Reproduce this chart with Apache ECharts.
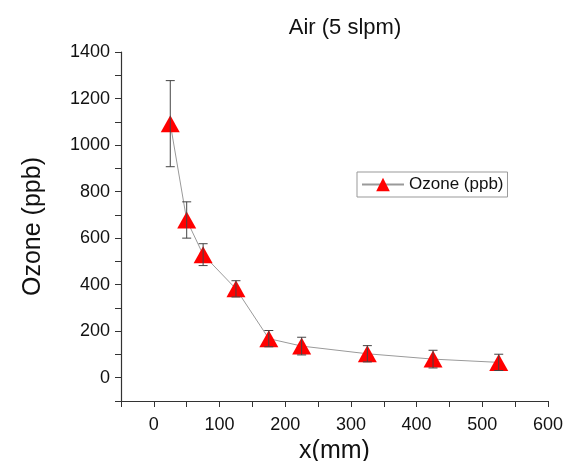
<!DOCTYPE html>
<html>
<head>
<meta charset="utf-8">
<script src="https://cdn.jsdelivr.net/npm/echarts@6/dist/echarts.min.js"></script>
<style>
  html, body { margin: 0; padding: 0; background: #fff; }
  #main { width: 567px; height: 461px; }
</style>
</head>
<body>
<div id="main"></div>
<script>
// distance along the tube (mm)
const xValues = [25, 50, 75, 125, 175, 225, 325, 425, 525];
// ozone concentration (ppb) and its error
const ozone = [1092, 678, 529, 382, 168, 136, 103, 80, 66];
const ozoneErr = [185, 78, 47, 35, 35, 38, 35, 38, 35];

const points = xValues.map((x, i) => [x, ozone[i]]);
const errBars = xValues.map((x, i) => [x, ozone[i] - ozoneErr[i], ozone[i] + ozoneErr[i]]);

const chartDom = document.getElementById('main');
const myChart = echarts.init(chartDom);

const labelFont = { fontFamily: 'Liberation Sans', fontSize: 18, color: '#111' };

const option = {
  animation: false,
  title: {
    text: 'Air (5 slpm)',
    left: 340,
    top: 12,
    textAlign: 'center',
    textStyle: { fontFamily: 'Liberation Sans', fontSize: 22, fontWeight: 'normal', color: '#111' }
  },
  legend: {
    left: 357,
    top: 172,
    data: ['Ozone (ppb)'],
    itemWidth: 42,
    itemHeight: 17,
    itemGap: 4,
    padding: [4, 4, 4, 4],
    borderColor: '#999',
    borderWidth: 1,
    textStyle: { fontFamily: 'Liberation Sans', fontSize: 17, color: '#111' }
  },
  grid: { left: 121, right: 19, top: 52, bottom: 60, outerBoundsMode: 'none' },
  xAxis: {
    type: 'value',
    min: -50,
    max: 600,
    interval: 50,
    name: 'x(mm)',
    nameLocation: 'middle',
    nameGap: 35,
    nameTextStyle: { fontFamily: 'Liberation Sans', fontSize: 25, color: '#111' },
    axisLine: { onZero: false, lineStyle: { color: '#333', width: 1.2 } },
    axisTick: { length: 6, lineStyle: { color: '#333' } },
    axisLabel: {
      ...labelFont,
      margin: 15,
      formatter: v => (v % 100 === 0 ? String(v) : '')
    },
    splitLine: { show: false }
  },
  yAxis: {
    type: 'value',
    min: -100,
    max: 1400,
    interval: 100,
    name: 'Ozone (ppb)',
    nameLocation: 'middle',
    nameGap: 75,
    nameTextStyle: { fontFamily: 'Liberation Sans', fontSize: 25, color: '#111' },
    axisLine: { onZero: false, lineStyle: { color: '#333', width: 1.2 } },
    axisTick: { length: 6, lineStyle: { color: '#333' } },
    axisLabel: {
      ...labelFont,
      margin: 11,
      formatter: v => (v % 200 === 0 ? String(v) : '')
    },
    splitLine: { show: false }
  },
  series: [
    {
      name: 'Ozone (ppb)',
      type: 'line',
      data: points,
      symbol: 'triangle',
      symbolSize: [19, 17],
      itemStyle: { color: '#ff0000' },
      lineStyle: { color: '#9a9a9a', width: 1 },
      z: 2
    },
    {
      name: 'err',
      type: 'custom',
      data: errBars,
      z: 3,
      silent: true,
      renderItem: function (params, api) {
        const x = api.value(0);
        const lo = api.coord([x, api.value(1)]);
        const hi = api.coord([x, api.value(2)]);
        const cap = 4.5;
        const style = { stroke: '#444', lineWidth: 1 };
        return {
          type: 'group',
          children: [
            { type: 'line', shape: { x1: lo[0], y1: lo[1], x2: hi[0], y2: hi[1] }, style: style },
            { type: 'line', shape: { x1: lo[0] - cap, y1: lo[1], x2: lo[0] + cap, y2: lo[1] }, style: style },
            { type: 'line', shape: { x1: hi[0] - cap, y1: hi[1], x2: hi[0] + cap, y2: hi[1] }, style: style }
          ]
        };
      }
    }
  ]
};

myChart.setOption(option);
</script>
</body>
</html>
